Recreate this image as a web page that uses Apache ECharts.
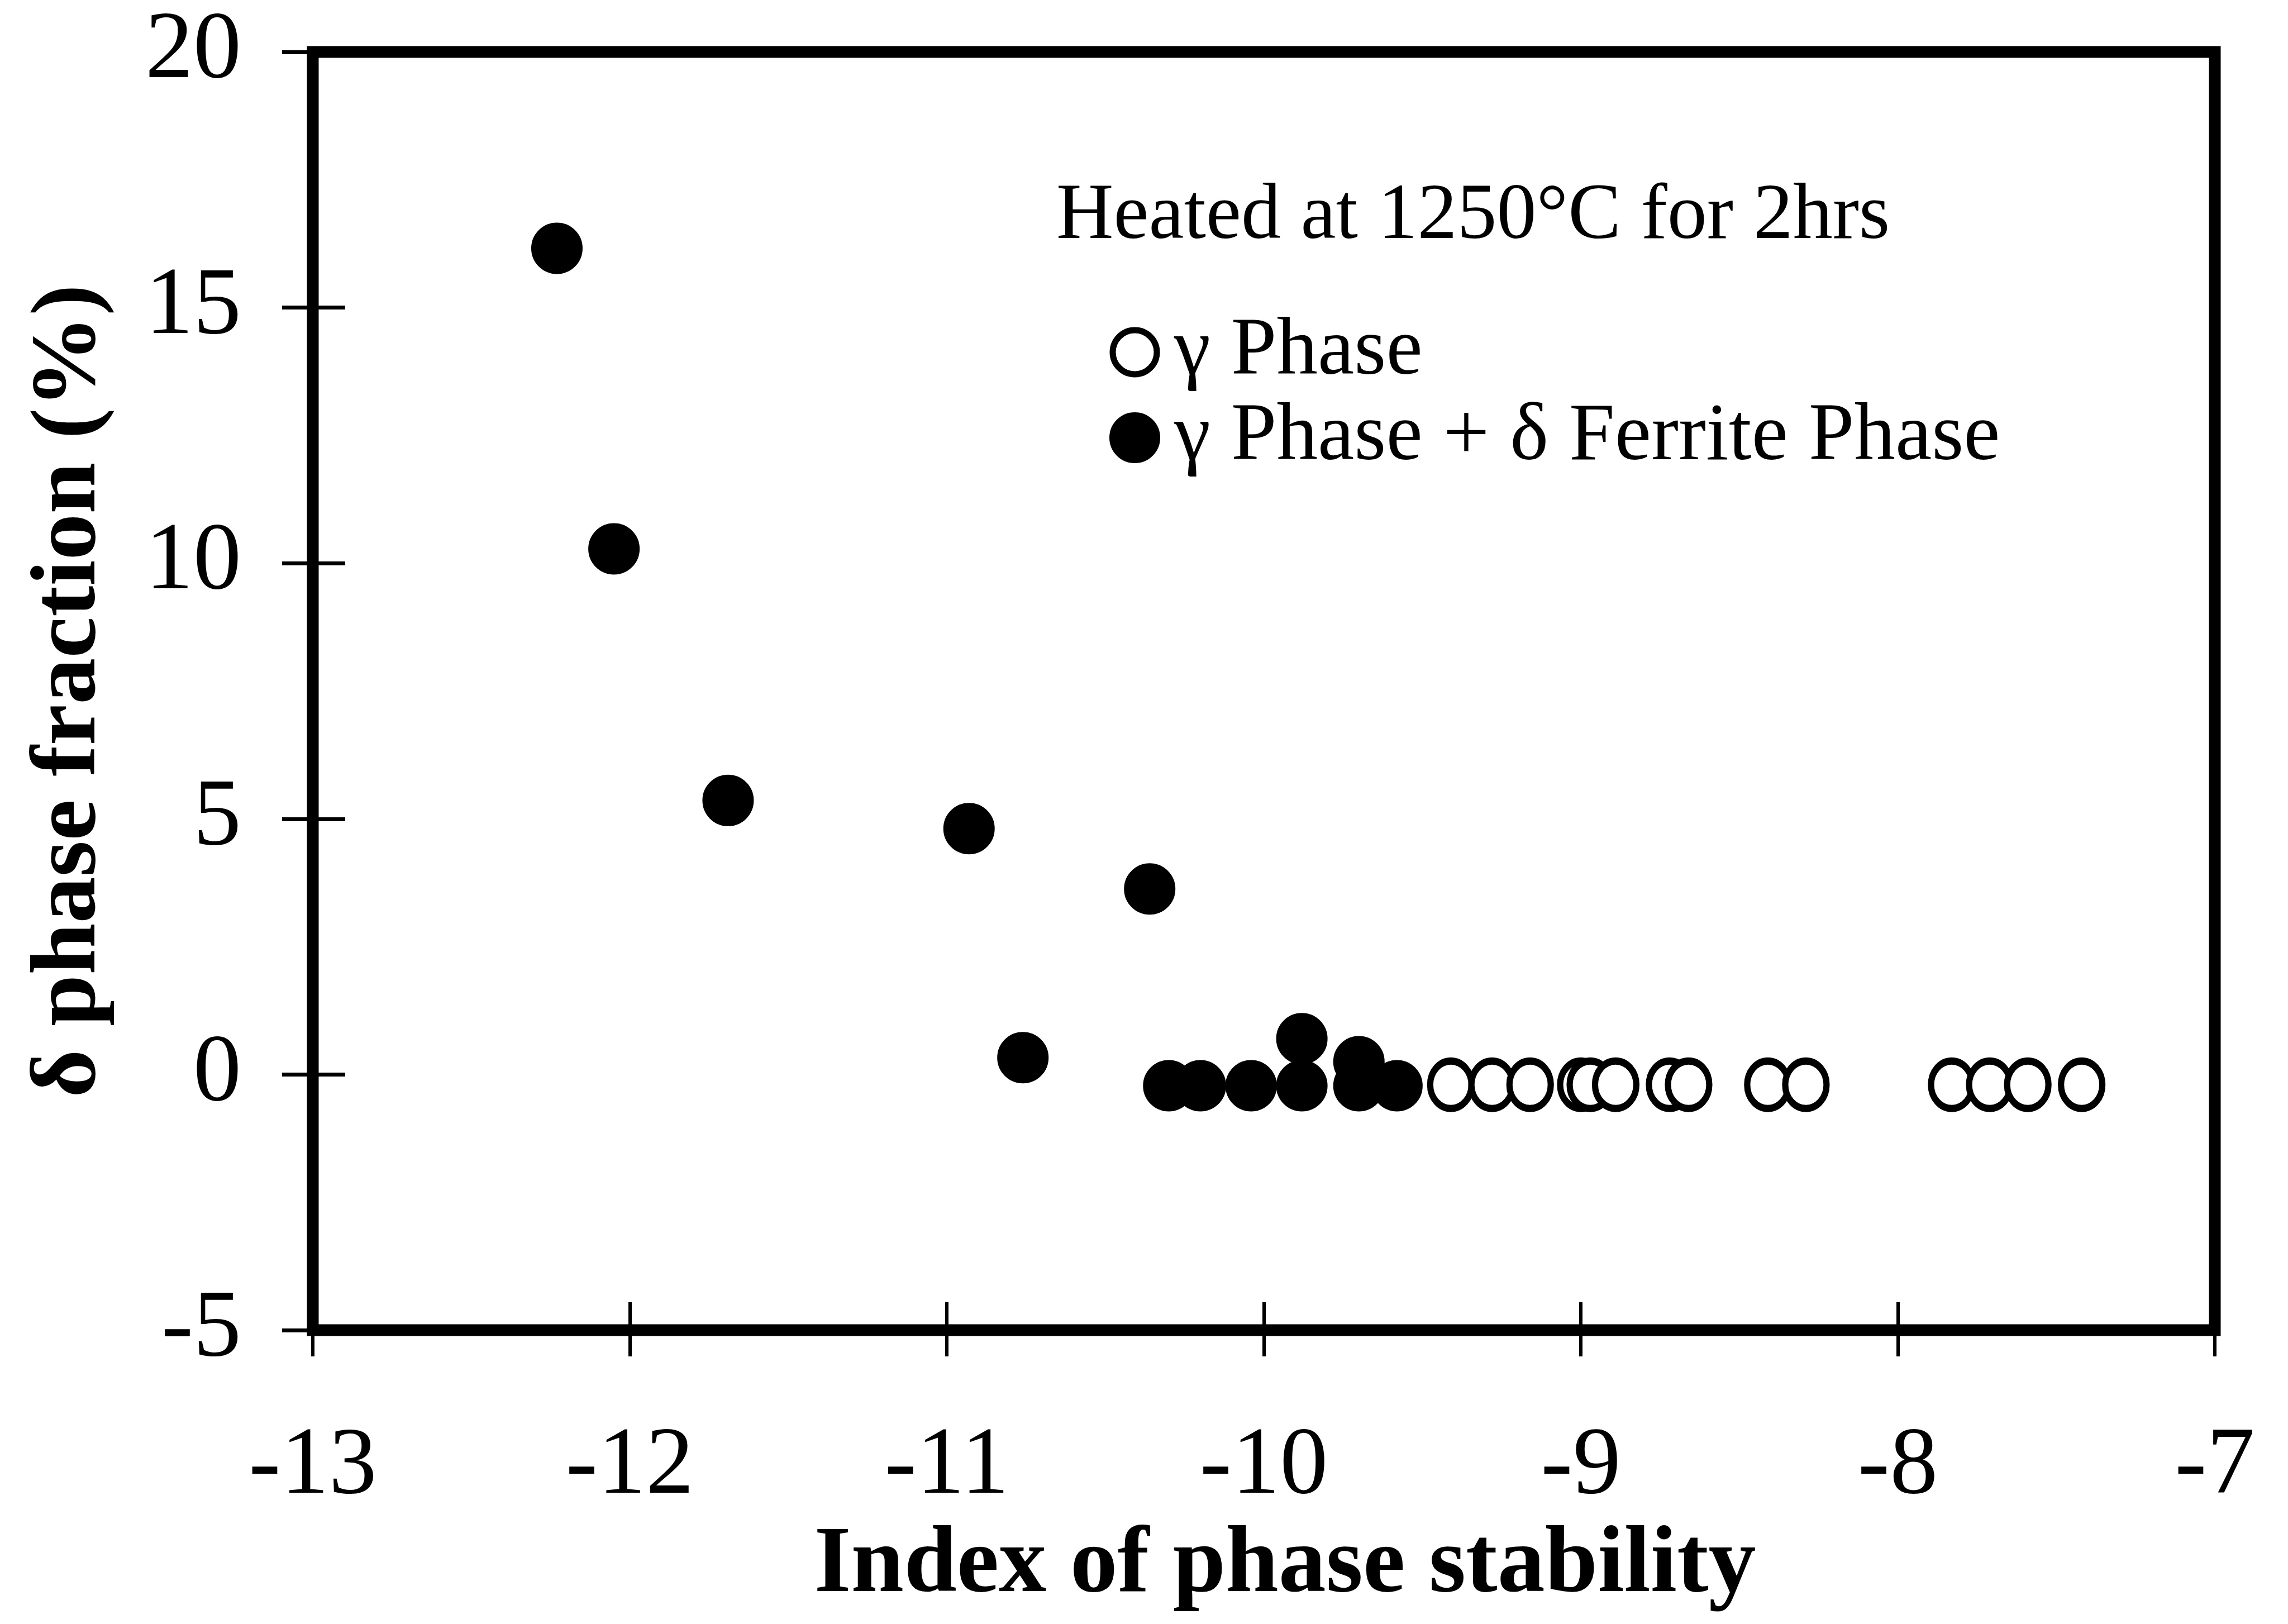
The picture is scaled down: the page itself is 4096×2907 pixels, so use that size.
<!DOCTYPE html>
<html>
<head>
<meta charset="utf-8">
<script src="https://cdn.jsdelivr.net/npm/echarts@6/dist/echarts.min.js"></script>
<style>
  html, body { margin: 0; padding: 0; background: #ffffff; }
  #chart { width: 4096px; height: 2907px; }
</style>
</head>
<body>
<div id="chart"></div>
<script>
// Axis ranges and tick steps
const xRange = [-13, -7];
const xStep = 1;
const yRange = [-5, 20];
const yStep = 5;

// Single-phase specimens (γ only)
const gammaX = [-9.41, -9.28, -9.16, -9.00, -8.97, -8.89, -8.72, -8.66, -8.41, -8.29, -7.83, -7.71, -7.59, -7.42];
const gammaY = [-0.2, -0.2, -0.2, -0.2, -0.2, -0.2, -0.2, -0.2, -0.2, -0.2, -0.2, -0.2, -0.2, -0.2];

// Two-phase specimens (γ + δ ferrite)
const ferriteX = [-12.23, -12.05, -11.69, -10.93, -10.36, -10.76, -10.30, -10.20, -10.04, -9.88, -9.88, -9.70, -9.70, -9.58];
const ferriteY = [16.16, 10.28, 5.36, 4.81, 3.63, 0.33, -0.22, -0.22, -0.22, 0.70, -0.22, 0.25, -0.22, -0.22];

const seriesNames = ['γ Phase', 'γ Phase + δ Ferrite Phase'];
const noteText = 'Heated at 1250°C for 2hrs';
const xTitle = 'Index of phase stability';
const yTitle = 'δ phase fraction (%)';

const pairs = (xs, ys) => xs.map((x, i) => [x, ys[i]]);

const FONT = "'Liberation Serif', 'Times New Roman', serif";
const ELLIPSE = 'path://M50,0 A50,50 0 1,1 50,100 A50,50 0 1,1 50,0 Z';

// Ticks cross the frame: each axis sits a little inside the plot border
// and its ticks run outward across the border.
const X_TICK_IN = 50, X_TICK_OUT = 47;
const Y_TICK_IN = 58, Y_TICK_OUT = 55;

const chart = echarts.init(document.getElementById('chart'), null, { renderer: 'canvas' });

chart.setOption({
  backgroundColor: '#ffffff',
  animation: false,
  title: {
    text: noteText,
    left: 1891,
    top: 318,
    padding: 0,
    textStyle: { fontFamily: FONT, fontSize: 142, fontWeight: 'normal', color: '#000', lineHeight: 142 }
  },
  legend: {
    orient: 'vertical',
    left: 1986,
    top: 557,
    padding: 0,
    itemGap: 6,
    itemWidth: 79,
    itemHeight: 85,
    selectedMode: false,
    data: [
      { name: seriesNames[0], icon: ELLIPSE, itemStyle: { color: '#ffffff', borderColor: '#000', borderWidth: 11 } },
      { name: seriesNames[1], icon: 'circle', itemStyle: { color: '#000', borderColor: '#000', borderWidth: 12 } }
    ],
    textStyle: { fontFamily: FONT, fontSize: 147, color: '#000', lineHeight: 110, padding: [0, 0, 0, 26] }
  },
  grid: {
    left: 560,
    right: 131,
    top: 93,
    bottom: 526,
    show: true,
    borderColor: '#000',
    borderWidth: 21,
    backgroundColor: 'transparent'
  },
  xAxis: {
    type: 'value',
    position: 'bottom',
    offset: -X_TICK_IN,
    min: xRange[0], max: xRange[1], interval: xStep,
    axisLine: { show: false, onZero: false },
    splitLine: { show: false },
    axisTick: { show: true, inside: false, length: X_TICK_IN + X_TICK_OUT, lineStyle: { color: '#000', width: 6 } },
    axisLabel: { margin: 160 + X_TICK_IN, fontFamily: FONT, fontSize: 172, color: '#000', lineHeight: 172 },
    name: xTitle,
    nameLocation: 'middle',
    nameGap: 338 + X_TICK_IN,
    nameTextStyle: { fontFamily: FONT, fontSize: 170, fontWeight: 'bold', color: '#000', lineHeight: 170, padding: [0, 0, 0, 76] }
  },
  yAxis: {
    type: 'value',
    position: 'left',
    offset: -Y_TICK_IN,
    min: yRange[0], max: yRange[1], interval: yStep,
    axisLine: { show: false, onZero: false },
    splitLine: { show: false },
    axisTick: { show: true, inside: false, length: Y_TICK_IN + Y_TICK_OUT, lineStyle: { color: '#000', width: 7 } },
    axisLabel: { margin: 128 + Y_TICK_IN, fontFamily: FONT, fontSize: 172, color: '#000' },
    name: yTitle,
    nameLocation: 'middle',
    nameGap: 351 + Y_TICK_IN,
    nameTextStyle: { fontFamily: FONT, fontSize: 166, fontWeight: 'bold', color: '#000', lineHeight: 166 }
  },
  series: [
    {
      name: seriesNames[0],
      type: 'scatter',
      symbol: ELLIPSE,
      symbolSize: [74, 85],
      itemStyle: { color: '#ffffff', borderColor: '#000', borderWidth: 12, opacity: 1 },
      emphasis: { disabled: true },
      data: pairs(gammaX, gammaY)
    },
    {
      name: seriesNames[1],
      type: 'scatter',
      symbol: 'circle',
      symbolSize: 80,
      itemStyle: { color: '#000', borderColor: '#000', borderWidth: 12, opacity: 1 },
      emphasis: { disabled: true },
      data: pairs(ferriteX, ferriteY)
    }
  ]
});
</script>
</body>
</html>
